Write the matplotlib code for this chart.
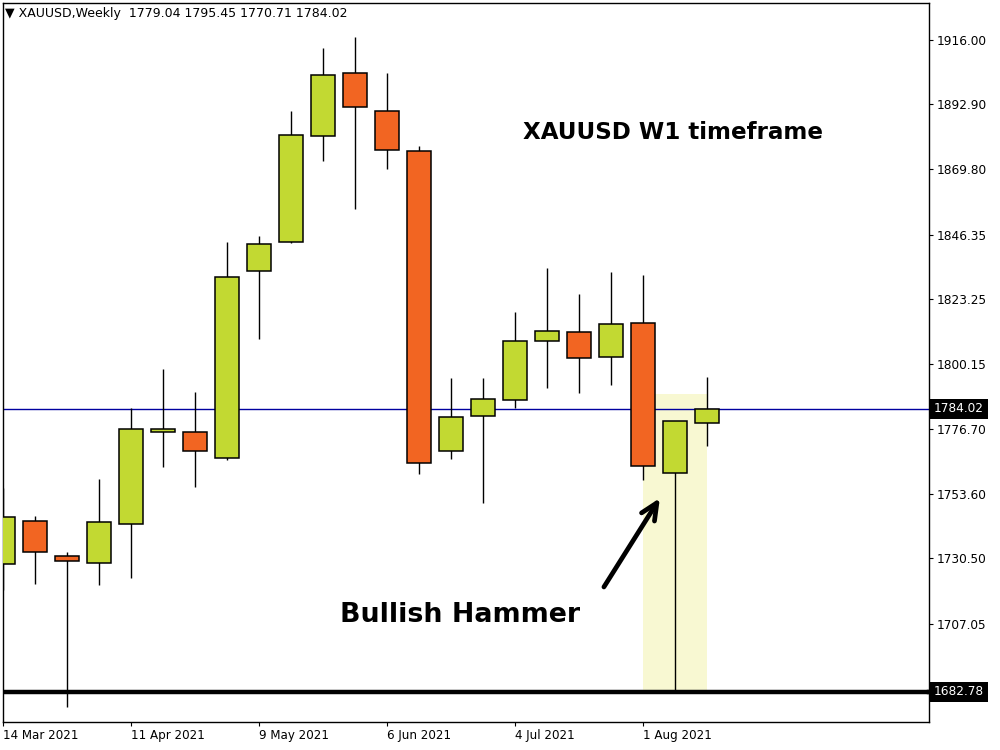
import matplotlib
matplotlib.use('Agg')
import matplotlib.pyplot as plt
from matplotlib.patches import Rectangle
import matplotlib.transforms as mtransforms

# ---------------- data ----------------
weeks = ['14 Mar 2021', '21 Mar 2021', '28 Mar 2021', '4 Apr 2021', '11 Apr 2021',
         '18 Apr 2021', '25 Apr 2021', '2 May 2021', '9 May 2021', '16 May 2021',
         '23 May 2021', '30 May 2021', '6 Jun 2021', '13 Jun 2021', '20 Jun 2021',
         '27 Jun 2021', '4 Jul 2021', '11 Jul 2021', '18 Jul 2021', '25 Jul 2021',
         '1 Aug 2021', '8 Aug 2021', '15 Aug 2021']
opens = [1728.5, 1743.9, 1731.4, 1728.9, 1742.8, 1775.7, 1775.7, 1766.4, 1833.4, 1843.7,
         1881.7, 1904.2, 1890.6, 1876.3, 1769.0, 1781.5, 1787.2, 1808.3, 1811.5, 1802.6,
         1814.7, 1761.1, 1779.04]
highs = [1755.7, 1745.7, 1732.8, 1758.9, 1784.3, 1798.3, 1790.1, 1843.7, 1845.9, 1890.6,
         1913.1, 1917.1, 1904.2, 1878.1, 1795.1, 1795.1, 1818.7, 1834.4, 1825.1, 1833.0,
         1831.9, 1779.6, 1795.45]
lows = [1719.2, 1721.4, 1677.4, 1721.0, 1723.5, 1763.2, 1756.1, 1765.7, 1809.0, 1843.2,
        1872.7, 1855.5, 1869.8, 1760.7, 1766.1, 1750.3, 1784.3, 1791.5, 1789.7, 1792.6,
        1758.6, 1682.78, 1770.71]
closes = [1745.3, 1732.8, 1729.6, 1743.5, 1776.8, 1776.8, 1769.0, 1831.2, 1843.0, 1882.0,
          1903.5, 1892.0, 1876.6, 1764.7, 1781.1, 1787.6, 1808.3, 1811.9, 1802.2, 1814.4,
          1763.6, 1779.6, 1784.02]
tick_labels = ['14 Mar 2021', '11 Apr 2021', '9 May 2021', '6 Jun 2021', '4 Jul 2021', '1 Aug 2021']
price_ticks = [1916.00, 1892.90, 1869.80, 1846.35, 1823.25, 1800.15, 1776.70,
               1753.60, 1730.50, 1707.05, 1683.95]
last_price = 1784.02
support = 1682.78
highlight_weeks = ['1 Aug 2021', '15 Aug 2021']
highlight_top = 1789.3
header = '\u25BC XAUUSD,Weekly  1779.04 1795.45 1770.71 1784.02'
title_text = 'XAUUSD W1 timeframe'
hammer_text = 'Bullish Hammer'

# ---------------- figure ----------------
W, H = 1000, 750
fig = plt.figure(figsize=(10, 7.5), dpi=100)
ax = fig.add_axes([3 / W, 1 - 722 / H, 926 / W, 719 / H])

bull_c = '#C2D932'
bear_c = '#F26522'
bw = 0.75

xs = list(range(len(weeks)))
for i in xs:
    o, h, l, c = opens[i], highs[i], lows[i], closes[i]
    ax.vlines(i, l, h, color='black', lw=1.0, zorder=3)
    bottom = min(o, c)
    height = abs(c - o)
    ax.add_patch(Rectangle((i - bw / 2, bottom), bw, height,
                           facecolor=bull_c if c >= o else bear_c,
                           edgecolor='black', lw=1.1, zorder=4))

# highlight region
x0 = weeks.index(highlight_weeks[0])
x1 = weeks.index(highlight_weeks[1])
ax.add_patch(Rectangle((x0, support), x1 - x0, highlight_top - support,
                       facecolor='#F8F8D2', edgecolor='none', zorder=1))

# lines
ax.axhline(last_price, color='#0000A0', lw=1.0, zorder=2)
ax.axhline(support, color='black', lw=3.2, zorder=5)

ax.set_xlim(0, 28.94)
ax.set_ylim(1672.0, 1929.2)

# axes styling
for s in ax.spines.values():
    s.set_color('black')
    s.set_linewidth(1.0)
ax.yaxis.tick_right()
ax.set_yticks(price_ticks)
# the lowest tick label sits under the support price box, so leave it blank
ax.set_yticklabels(['%.2f' % p if abs(p - support) > 5 else '' for p in price_ticks])
ax.tick_params(axis='y', direction='out', length=3, width=0.8, pad=2.5,
               labelsize=8.7, colors='black')
ax.set_xticks([weeks.index(t) for t in tick_labels])
ax.set_xticklabels(tick_labels)
for lab in ax.get_xticklabels():
    lab.set_horizontalalignment('left')
ax.tick_params(axis='x', direction='out', length=3, width=0.8, pad=2,
               labelsize=8.6, colors='black')

# price boxes
trans = mtransforms.blended_transform_factory(ax.transAxes, ax.transData)
for p in [last_price, support]:
    ax.text(1.0055, p, '%.2f' % p, transform=trans, ha='left', va='center',
            color='white', fontsize=8.7, zorder=10, clip_on=False,
            bbox=dict(boxstyle='square,pad=0.3', fc='black', ec='none'))
ax.plot([1.0, 1.006], [support, support], transform=trans, color='black',
        lw=3.2, clip_on=False, zorder=9)

# texts
fig.text(5 / W, 1 - 14 / H, header, ha='left', va='center', fontsize=9,
         family='DejaVu Sans')
ax.text(16.25, 1880.6, title_text, ha='left', va='baseline', fontsize=16.6,
        fontweight='bold', family='DejaVu Sans', zorder=8)
ax.text(10.53, 1707.8, hammer_text, ha='left', va='baseline', fontsize=19.4,
        fontweight='bold', family='DejaVu Sans', zorder=8)

# arrow
ax.annotate('', xy=(20.53, 1752.1), xytext=(18.78, 1720.3),
            arrowprops=dict(arrowstyle='->,head_length=1.2,head_width=0.55',
                            lw=3.4, color='black', shrinkA=0, shrinkB=0),
            zorder=8)

fig.savefig('out.png', dpi=100)
